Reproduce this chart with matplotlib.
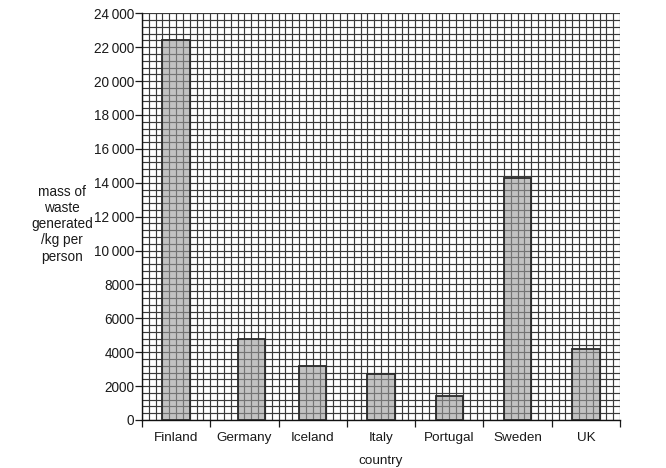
import matplotlib
matplotlib.use("Agg")
import matplotlib.pyplot as plt
from matplotlib.ticker import MultipleLocator, FuncFormatter

countries = ["Finland", "Germany", "Iceland", "Italy", "Portugal", "Sweden", "UK"]
waste = [22400, 4800, 3200, 2700, 1400, 14300, 4200]

INK = "#1a1a1a"
plt.rcParams.update({"font.family": ["Liberation Sans", "DejaVu Sans"], "font.size": 9.7,
                     "text.color": INK, "xtick.color": INK, "ytick.color": INK})

fig = plt.figure(figsize=(6.66, 4.68), dpi=100)
ax = fig.add_axes([0.2132, 0.1026, 0.7178, 0.869])

x = list(range(len(countries)))
# in the original the Germany bar sits one grid square right of centre
nudge = [0, 0.1, 0, 0, 0, 0, 0]
xb = [xi + d for xi, d in zip(x, nudge)]
ax.bar(xb, waste, width=0.4, color="#9a9a9a", alpha=0.6, edgecolor="none", zorder=3)
ax.bar(xb, waste, width=0.4, color="none", edgecolor="#2a2a2a", lw=1.3, zorder=4)

ax.set_xlim(-0.5, len(countries) - 0.5)
ax.set_ylim(0, 24000)

# graph-paper grid
ax.xaxis.set_major_locator(MultipleLocator(1, offset=0.5))
ax.xaxis.set_minor_locator(MultipleLocator(0.1, offset=0.5))
ax.yaxis.set_major_locator(MultipleLocator(2000))
ax.yaxis.set_minor_locator(MultipleLocator(400))
ax.grid(True, which="both", color="#3a3a3a", lw=0.85, zorder=1)
ax.set_axisbelow(True)

def yfmt(v, pos):
    v = int(round(v))
    if v >= 10000:
        return f"{v // 1000}\u2009{v % 1000:03d}"
    return str(v)

ax.yaxis.set_major_formatter(FuncFormatter(yfmt))
ax.tick_params(axis="y", which="major", length=5, width=0.9, pad=0.5, labelsize=9.8)
ax.tick_params(axis="x", which="major", length=5, width=0.9, labelbottom=False)
ax.tick_params(which="minor", length=0)

for s in ["top", "right"]:
    ax.spines[s].set_visible(False)
for s in ["left", "bottom"]:
    ax.spines[s].set_color("#111111"); ax.spines[s].set_linewidth(1.0)

sec = ax.secondary_xaxis("bottom")
sec.set_xticks(x, countries)
sec.tick_params(length=0, pad=9, labelsize=9.7)
sec.spines["bottom"].set_visible(False)

fig.text(0.093, 0.521, "mass of\nwaste\ngenerated\n/kg per\nperson", ha="center", va="center",
         fontsize=9.8, linespacing=1.2)
fig.text(0.572, 0.015, "country", ha="center", va="center", fontsize=9.7)

fig.savefig("out.png", dpi=100, facecolor="white")
